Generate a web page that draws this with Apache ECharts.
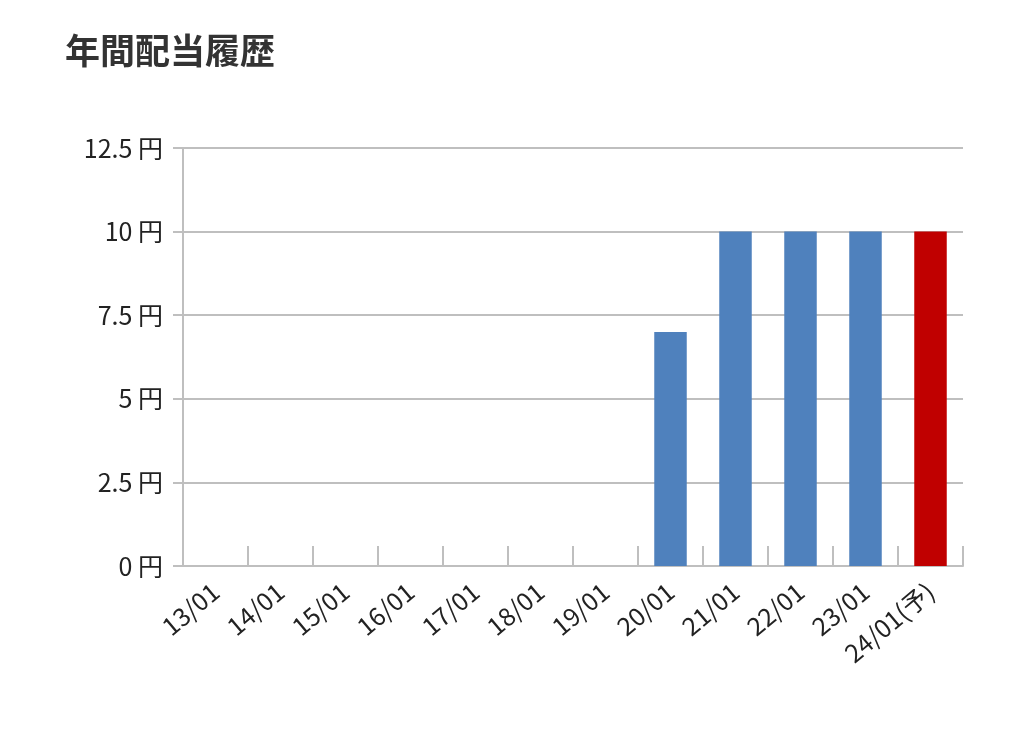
<!DOCTYPE html>
<html><head><meta charset="utf-8">
<script src="https://cdn.jsdelivr.net/npm/echarts@6/dist/echarts.min.js"></script>
<style>html,body{margin:0;padding:0;background:#fff}#c{width:1024px;height:735px}</style>
</head><body><div id="c"></div>
<script>
const categories = ['13/01','14/01','15/01','16/01','17/01','18/01','19/01','20/01','21/01','22/01','23/01','24/01(予)'];
const values = [null,null,null,null,null,null,null,7,10,10,10,10];
const forecast = [false,false,false,false,false,false,false,false,false,false,false,true];
const chart = echarts.init(document.getElementById('c'));
chart.setOption({
  animation:false,
  title:{text:'年間配当履歴',left:60,top:28,textStyle:{fontSize:35,fontWeight:'bold',color:'#333',fontFamily:'Noto Sans CJK JP'}},
  grid:{left:183,right:61,top:148,bottom:169},
  xAxis:{type:'category',data:categories,
    axisLine:{lineStyle:{color:'#bfbfbf',width:2}},
    axisTick:{show:true,inside:true,length:20,lineStyle:{color:'#bfbfbf',width:2}},
    axisLabel:{rotate:40,fontSize:25,color:'#222',margin:22,fontFamily:'Noto Sans CJK JP',interval:0}},
  yAxis:{type:'value',min:0,max:12.5,interval:2.5,
    axisLine:{show:true,lineStyle:{color:'#bfbfbf',width:2}},
    axisTick:{show:true,length:10,lineStyle:{color:'#bfbfbf',width:2}},
    splitLine:{lineStyle:{color:'#bfbfbf',width:2}},
    axisLabel:{fontSize:25,color:'#222',margin:20,fontFamily:'Noto Sans CJK JP',formatter:v=>v+' 円'}},
  series:[{type:'bar',barWidth:'50%',
    data:values.map((v,i)=>({value:v,itemStyle:{color:forecast[i]?'#c00000':'#4f81bd'}}))}]
});
</script></body></html>
